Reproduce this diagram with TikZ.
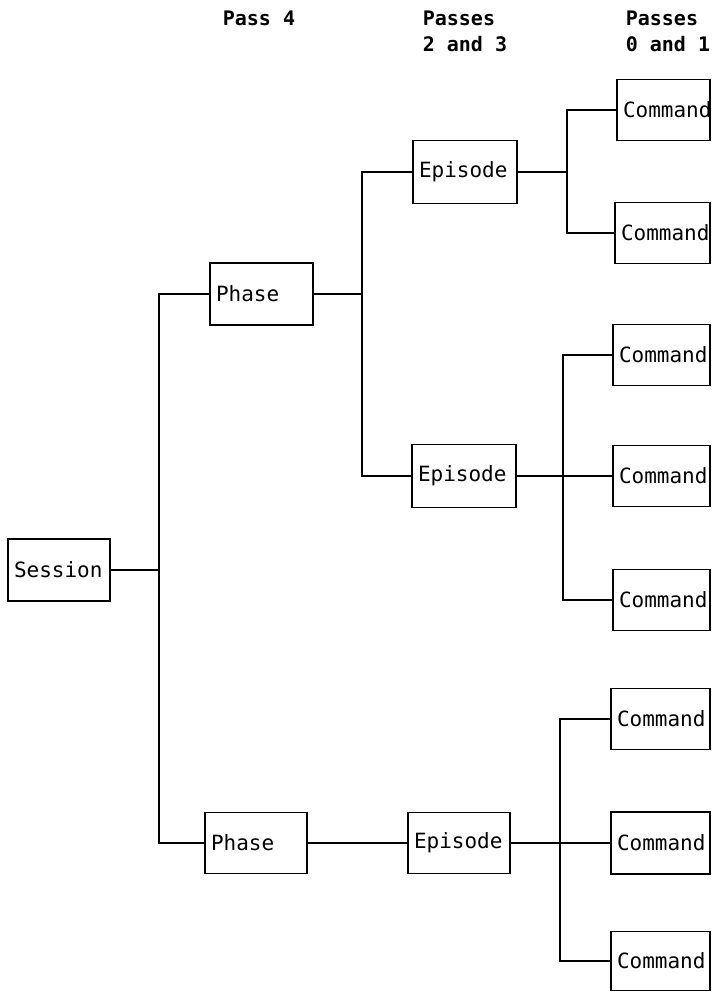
\documentclass[tikz,border=0pt]{standalone}
\usepackage{fontspec}
\newfontfamily\typewriter{DejaVu Sans Mono}
\begin{document}
\begin{tikzpicture}[x=1pt,y=-1pt,
  line width=1.6pt,
  box/.style={draw, rectangle, line width=1.6pt, inner xsep=6pt, inner ysep=0pt, align=left,
    font=\typewriter\fontsize{21}{23}\selectfont},
  head/.style={anchor=west, inner sep=0pt, align=left,
    font=\typewriter\bfseries\fontsize{20}{26}\selectfont},
  wire/.style={line width=1.6pt}]
\useasboundingbox (0,0) rectangle (713,993);

% column headings
\node[head] (h4)  at (222,18) {Pass 4};
\node[head] (h23) at (422,31) {Passes\\2 and 3};
\node[head] (h01) at (625,31) {Passes\\0 and 1};

% session level
\node[box, minimum width=102pt, minimum height=62pt, text width=90pt] (session) at (59,570) {Session};

% phases
\node[box, minimum width=103pt, minimum height=62pt, text width=91pt] (phase1) at (261.5,294) {Phase};
\node[box, minimum width=102pt, minimum height=61pt, text width=90pt] (phase2) at (256,843) {Phase};

% episodes
\node[box, minimum width=104pt, minimum height=63pt, text width=92pt] (ep1) at (465,172) {Episode};
\node[box, minimum width=104pt, minimum height=63pt, text width=92pt] (ep2) at (464,476) {Episode};
\node[box, minimum width=102pt, minimum height=61pt, text width=90pt] (ep3) at (459,843) {Episode};

% commands
\node[box, minimum width=93pt, minimum height=61pt, text width=81pt] (c1) at (663.5,110) {Command};
\node[box, minimum width=95pt, minimum height=61pt, text width=83pt] (c2) at (662.5,233) {Command};
\node[box, minimum width=97pt, minimum height=61pt, text width=85pt] (c3) at (661.5,355) {Command};
\node[box, minimum width=97pt, minimum height=61pt, text width=85pt] (c4) at (661.5,476) {Command};
\node[box, minimum width=97pt, minimum height=61pt, text width=85pt] (c5) at (661.5,600) {Command};
\node[box, minimum width=99pt, minimum height=61pt, text width=87pt] (c6) at (660.5,719) {Command};
\node[box, minimum width=99pt, minimum height=62pt, text width=87pt] (c7) at (660.5,843) {Command};
\node[box, minimum width=99pt, minimum height=59pt, text width=87pt] (c8) at (660.5,961) {Command};

% branch points
\coordinate (j0) at (159,570);
\coordinate (j1) at (362,294);
\coordinate (j2) at (567,172);
\coordinate (j3) at (563,476);
\coordinate (j4) at (560,843);

% session to phases
\draw[wire] (session.east) -- (j0);
\draw[wire] (phase1.west) -| (j0);
\draw[wire] (phase2.west) -| (j0);

% phases to episodes
\draw[wire] (phase1.east) -- (j1);
\draw[wire] (ep1.west) -| (j1);
\draw[wire] (ep2.west) -| (j1);
\draw[wire] (phase2.east) -- (ep3.west);

% episodes to commands
\draw[wire] (ep1.east) -- (j2);
\draw[wire] (c1.west) -| (j2);
\draw[wire] (c2.west) -| (j2);

\draw[wire] (ep2.east) -- (c4.west);
\draw[wire] (c3.west) -| (j3);
\draw[wire] (c5.west) -| (j3);

\draw[wire] (ep3.east) -- (c7.west);
\draw[wire] (c6.west) -| (j4);
\draw[wire] (c8.west) -| (j4);
\end{tikzpicture}
\end{document}
